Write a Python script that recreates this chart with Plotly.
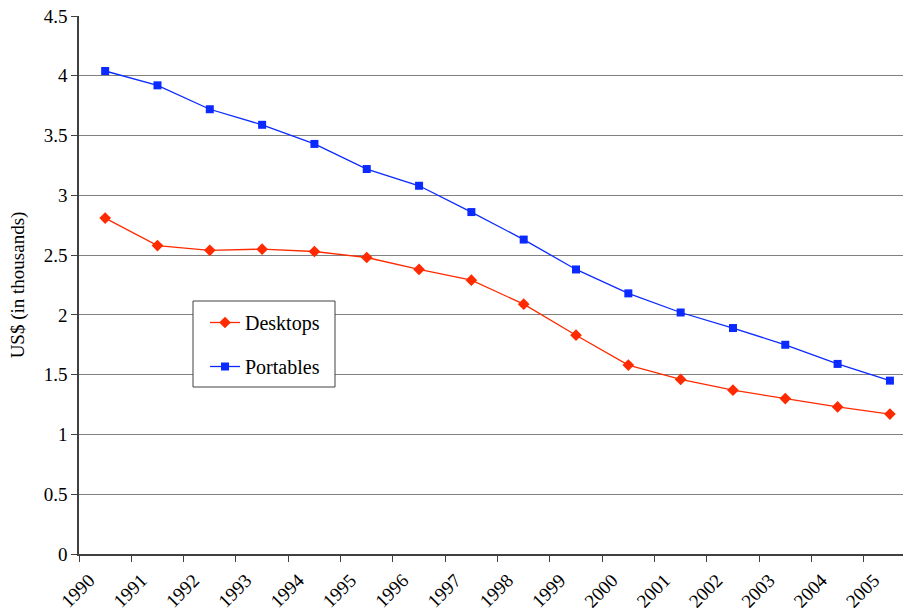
import plotly.graph_objects as go

years = [str(y) for y in range(1990, 2006)]
desktops = [2.81, 2.58, 2.54, 2.55, 2.53, 2.48, 2.38, 2.29, 2.09, 1.83, 1.58, 1.46, 1.37, 1.30, 1.23, 1.17]
portables = [4.04, 3.92, 3.72, 3.59, 3.43, 3.22, 3.08, 2.86, 2.63, 2.38, 2.18, 2.02, 1.89, 1.75, 1.59, 1.45]

FONT = "Liberation Serif"
W, H = 903, 615
L, R, T, B = 79, 0, 16, 61
PW, PH = W - L - R, H - T - B


def px_x(x):
    return (x - L) / PW


def px_y(y):
    return (H - B - y) / PH


fig = go.Figure()
fig.add_trace(go.Scatter(
    x=years, y=desktops, name="Desktops", mode="lines+markers",
    line=dict(color="#FF2A00", width=1.3),
    marker=dict(symbol="diamond", size=9, color="#FF2A00"),
    legendgroup="d",
))
fig.add_trace(go.Scatter(
    x=years, y=portables, name="Portables", mode="lines+markers",
    line=dict(color="#0A2AFF", width=1.3),
    marker=dict(symbol="square", size=8, color="#0A2AFF"),
    legendgroup="p",
))

# legend frame, drawn as a paper-anchored box behind the legend entries
fig.add_shape(
    type="rect", xref="paper", yref="paper",
    x0=px_x(193), x1=px_x(335), y0=px_y(387), y1=px_y(301),
    line=dict(color="#404040", width=1), fillcolor="white", layer="above",
)

fig.update_layout(
    width=W, height=H,
    margin=dict(l=L, r=R, t=T, b=B, autoexpand=False),
    paper_bgcolor="white", plot_bgcolor="white",
    font=dict(family=FONT, size=19, color="black"),
    showlegend=True,
    legend=dict(
        x=px_x(205), y=px_y(303), xanchor="left", yanchor="top",
        bgcolor="rgba(0,0,0,0)", borderwidth=0,
        font=dict(family=FONT, size=20),
        traceorder="grouped", tracegroupgap=15,
        itemwidth=30,
    ),
)
fig.update_xaxes(
    type="category", range=[-0.5, 15.25], automargin=False,
    tickson="boundaries", ticks="outside", ticklen=6, tickcolor="#404040",
    tickangle=-45, showgrid=False,
    showline=True, linecolor="#404040", linewidth=1.5,
    tickfont_family=FONT, tickfont_size=19, tickfont_color="black",
    ticklabelstandoff=6, ticklabelshift=-16,
)
fig.update_yaxes(
    range=[0, 4.5], dtick=0.5, tickformat="~g", automargin=False,
    showgrid=True, gridcolor="#808080", gridwidth=1.2,
    ticks="outside", ticklen=6, tickcolor="#404040",
    showline=True, linecolor="#404040", linewidth=1.5,
    zeroline=False,
    title_text="US$ (in thousands)", title_font_family=FONT, title_font_size=19,
    title_standoff=14,
    tickfont_family=FONT, tickfont_size=19, tickfont_color="black",
)

fig.write_html("out.html")
